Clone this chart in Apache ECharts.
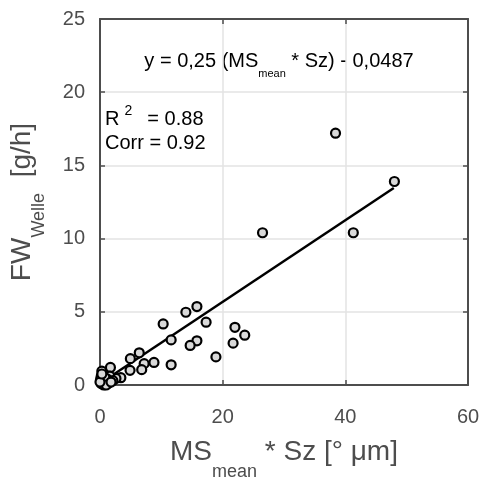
<!DOCTYPE html>
<html>
<head>
<meta charset="utf-8">
<script src="https://cdn.jsdelivr.net/npm/echarts@6/dist/echarts.min.js"></script>
<style>
html,body{margin:0;padding:0;background:#fff;}
#main{width:484px;height:479px;}
</style>
</head>
<body>
<div id="main"></div>
<script>
// MS_mean * Sz  [° µm]
var msSz = [38.4, 48.0, 26.5, 41.3, 15.8, 14.0, 10.3, 17.3, 11.6, 15.8,
            14.7, 22.0, 23.6, 21.7, 18.9, 11.6, 8.8, 6.4, 4.95, 7.2,
            6.8, 4.9, 1.7, 0.3, 3.4, 2.6, 1.6, 0.2, 0.5, 0.9,
            0.2, 1.2, 0.6, 1.3, 2.1, 0.1, 0.4, 0.8, 1.0, 0.0,
            1.8, 0.3];
// FW_Welle [g/h]
var fwWelle = [17.2, 13.9, 10.4, 10.4, 5.36, 4.97, 4.17, 4.29, 3.08, 3.02,
               2.70, 3.94, 3.40, 2.86, 1.92, 1.38, 1.54, 2.2, 1.8, 1.46,
               1.05, 1.0, 1.2, 0.95, 0.5, 0.45, 0.6, 0.6, 0.3, 0.15,
               0.1, 0.4, 0.0, 0.1, 0.3, 0.4, 0.2, 0.5, 0.0, 0.2,
               0.2, 0.75];
// fitted line, as drawn
var fitX = [0, 47.9];
var fitY = [0.1, 13.46];

var xRange = [0, 60, 20];
var yRange = [0, 25, 5];

var fontName = '"Liberation Sans", Arial, Helvetica, sans-serif';
var axisGray = '#4d4d4d';

var points = msSz.map(function(x, i){ return [x, fwWelle[i]]; });
var fitLine = fitX.map(function(x, i){ return [x, fitY[i]]; });

var boxAxis = function(pos, r, isMain){
	return {
		type: 'value',
		position: pos,
		min: r[0],
		max: r[1],
		interval: r[2],
		axisLine: {show: true, onZero: false, lineStyle: {color: axisGray, width: 2}},
		axisTick: {show: true, inside: true, length: 5, lineStyle: {color: axisGray, width: 1.5}},
		axisLabel: {show: isMain},
		splitLine: {show: isMain, lineStyle: {color: '#e3e3e3', width: 1.5}}
	};
};

var xMain = boxAxis('bottom', xRange, true);
xMain.axisLabel = {show: true, margin: 22, fontSize: 20, color: axisGray, fontFamily: fontName};
xMain.name = '{a|MS}{s|mean}{a| * Sz [° μm]}';
xMain.nameLocation = 'middle';
xMain.nameGap = 38;
xMain.nameTextStyle = {
	color: axisGray, fontFamily: fontName, fontSize: 28,
	rich: {
		a: {fontSize: 28, lineHeight: 58, color: axisGray, fontFamily: fontName},
		s: {fontSize: 18, lineHeight: 18, verticalAlign: 'bottom', color: axisGray, fontFamily: fontName}
	}
};

var yMain = boxAxis('left', yRange, true);
yMain.axisLabel = {show: true, margin: 15, fontSize: 20, color: axisGray, fontFamily: fontName};
yMain.name = '{a|FW}{s|Welle}{a|  [g/h]}';
yMain.nameLocation = 'middle';
yMain.nameRotate = 90;
yMain.nameGap = 52;
yMain.nameTextStyle = {
	color: axisGray, fontFamily: fontName, fontSize: 28,
	rich: {
		a: {fontSize: 28, lineHeight: 52, color: axisGray, fontFamily: fontName},
		s: {fontSize: 18, lineHeight: 18, verticalAlign: 'bottom', color: axisGray, fontFamily: fontName}
	}
};

var option = {
	animation: false,
	backgroundColor: '#fff',
	grid: {left: 100, top: 19, right: 16, bottom: 94, containLabel: false, outerBoundsMode: 'none'},
	xAxis: [xMain, boxAxis('top', xRange, false)],
	yAxis: [yMain, boxAxis('right', yRange, false)],
	graphic: [
		{
			type: 'text', x: 279, y: 61,
			style: {
				text: '{a|y = 0,25 (MS}{s|mean}{a| * Sz) - 0,0487}',
				align: 'center', verticalAlign: 'middle', fill: '#000',
				rich: {
					a: {fontSize: 20, lineHeight: 36, fontFamily: fontName, fill: '#000'},
					s: {fontSize: 11, lineHeight: 12, verticalAlign: 'bottom', fontFamily: fontName, fill: '#000'}
				}
			}
		},
		{
			type: 'text', x: 105, y: 119,
			style: {
				text: '{a|R}{p|2}{a|  = 0.88}',
				align: 'left', verticalAlign: 'middle', fill: '#000',
				rich: {
					a: {fontSize: 20, lineHeight: 29, fontFamily: fontName, fill: '#000'},
					p: {fontSize: 14, lineHeight: 14, verticalAlign: 'top', padding: [0, 4, 0, 5], fontFamily: fontName, fill: '#000'}
				}
			}
		},
		{
			type: 'text', x: 105, y: 143,
			style: {
				text: 'Corr = 0.92',
				align: 'left', verticalAlign: 'middle', fill: '#000',
				fontSize: 20, fontFamily: fontName
			}
		}
	],
	series: [
		{
			type: 'line',
			data: fitLine,
			symbol: 'none',
			z: 2,
			lineStyle: {color: '#000', width: 2.5}
		},
		{
			type: 'scatter',
			data: points,
			symbol: 'circle',
			symbolSize: 9,
			z: 3,
			itemStyle: {color: '#d9d9d9', borderColor: '#000', borderWidth: 2.2, opacity: 1}
		}
	]
};

var myChart = echarts.init(document.getElementById('main'));
myChart.setOption(option);
</script>
</body>
</html>
